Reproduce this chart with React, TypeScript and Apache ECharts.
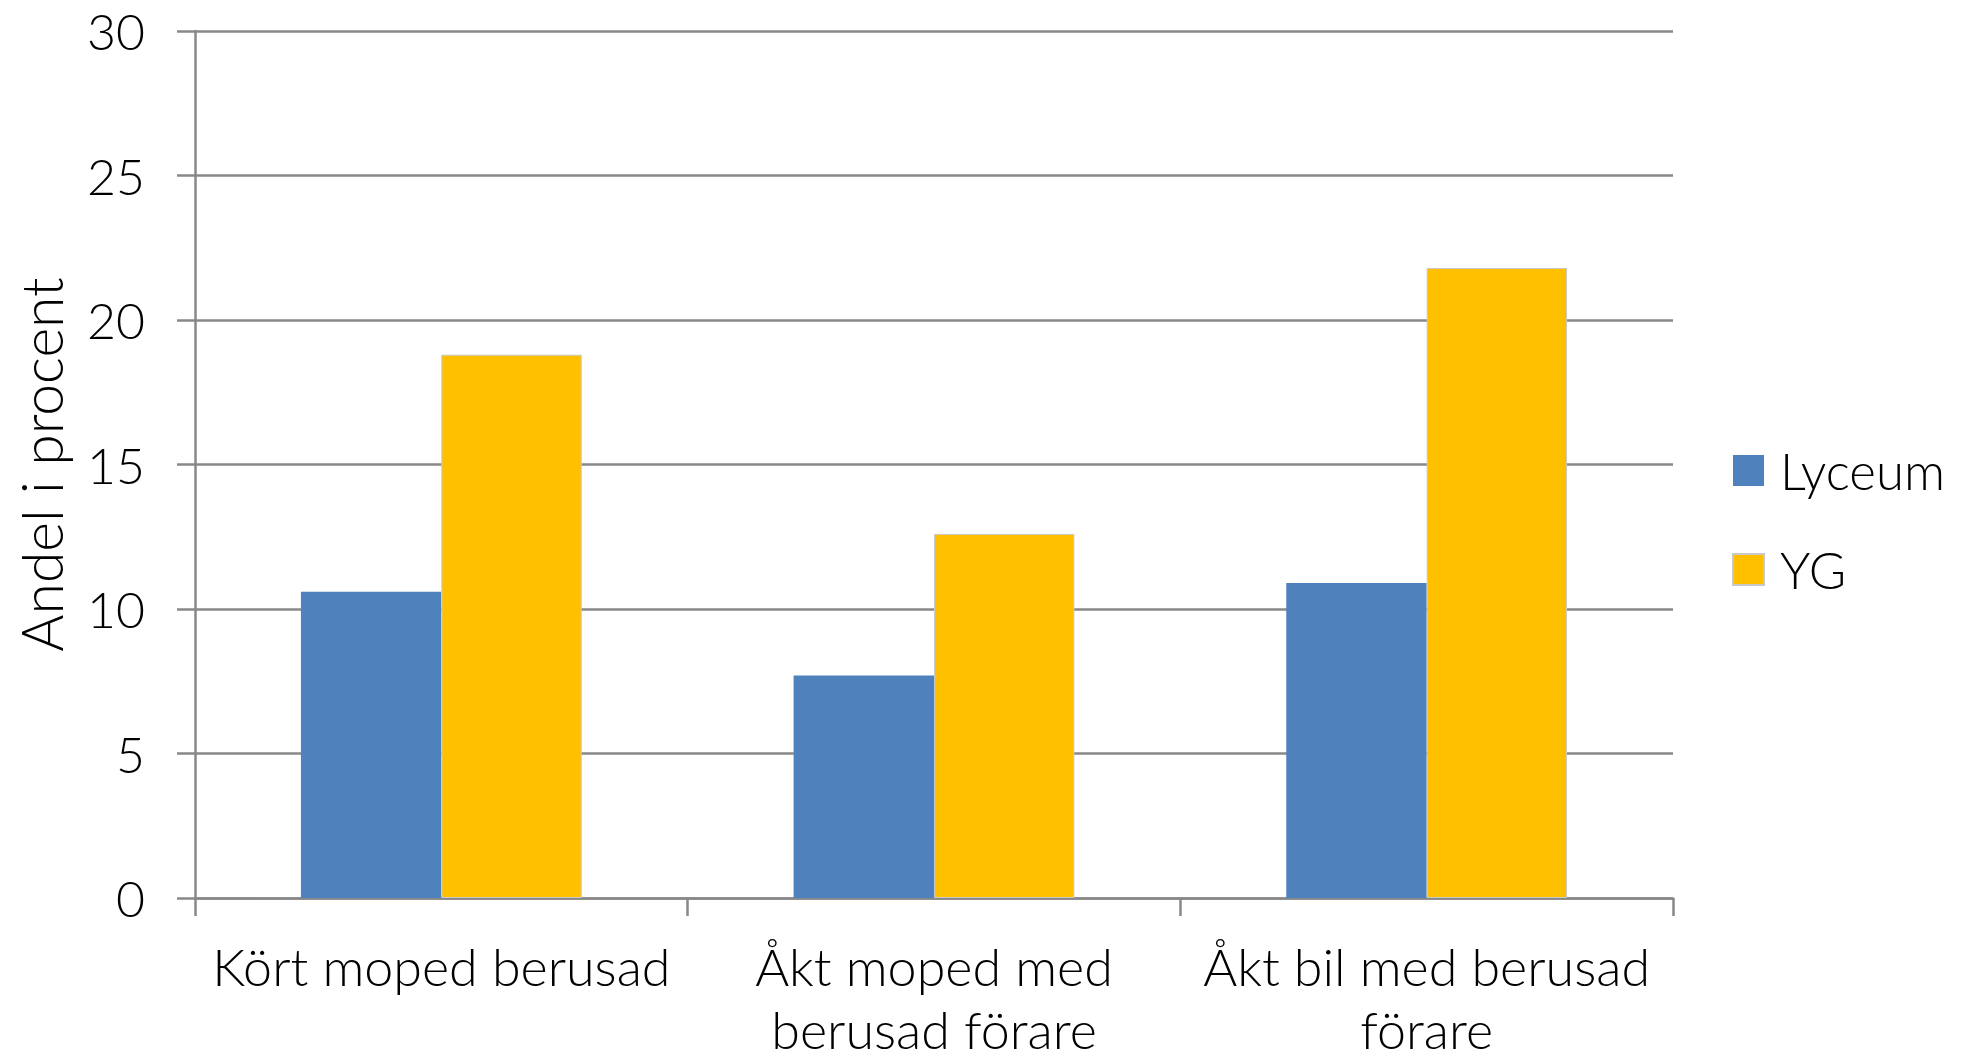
import React, { useEffect, useRef } from "react";
import * as echarts from "echarts";

const categories = ["Kört moped berusad", "Åkt moped med\nberusad förare", "Åkt bil med berusad\nförare"];
const lyceum = [10.6, 7.7, 10.9];
const yg = [18.8, 12.6, 21.8];
const seriesNames = ["Lyceum", "YG"];
const yTicks = { min: 0, max: 30, interval: 5 };

const FONT = "Lato, sans-serif";
const FW = 300;

export default function App() {
  const ref = useRef<HTMLDivElement>(null);
  useEffect(() => {
    if (!ref.current) return;
    const chart = echarts.init(ref.current, null, { renderer: "svg" });
    const labelBase = { fontSize: 52, color: "#000", fontFamily: FONT, fontWeight: FW };
    chart.setOption({
      animation: false,
      backgroundColor: "#ffffff",
      textStyle: { fontFamily: FONT },
      grid: { left: 195, width: 1478, top: 31, height: 867, containLabel: false, outerBoundsMode: "none" },
      legend: {
        orient: "vertical",
        left: 1732,
        top: 445,
        padding: 0,
        itemWidth: 31,
        itemHeight: 31,
        itemGap: 48,
        icon: "rect",
        data: seriesNames,
        textStyle: { fontSize: 51, color: "#000", fontFamily: FONT, fontWeight: FW, padding: [0, 0, 0, 11] },
      },
      xAxis: {
        type: "category",
        data: categories,
        axisLine: { lineStyle: { color: "#888888", width: 2.5 } },
        axisTick: { show: true, length: 18, lineStyle: { color: "#888888", width: 2.5 } },
        axisLabel: {
          ...labelBase,
          margin: 29,
          interval: 0,
          formatter: (v: string) =>
            v
              .split("\n")
              .map((l, i) => `{${i === 0 ? "a" : "b"}|${l}}`)
              .join("\n"),
          rich: {
            a: { ...labelBase, lineHeight: 78 },
            b: { ...labelBase, lineHeight: 48 },
          },
        },
      },
      yAxis: {
        type: "value",
        min: yTicks.min,
        max: yTicks.max,
        interval: yTicks.interval,
        name: "Andel i procent",
        nameLocation: "middle",
        nameGap: 126,
        nameTextStyle: { fontSize: 57, color: "#000", fontFamily: FONT, fontWeight: FW },
        axisLine: { show: true, lineStyle: { color: "#888888", width: 2.5 } },
        axisTick: { show: true, length: 18, lineStyle: { color: "#888888", width: 2.5 } },
        splitLine: { show: true, lineStyle: { color: "#888888", width: 2.5 } },
        axisLabel: { fontSize: 50, color: "#000", fontFamily: FONT, fontWeight: FW, margin: 50 },
      },
      series: [
        {
          name: seriesNames[0],
          type: "bar",
          data: lyceum,
          barGap: "0%",
          barCategoryGap: "43%",
          itemStyle: { color: "#4F81BD", borderWidth: 0 },
        },
        {
          name: seriesNames[1],
          type: "bar",
          data: yg,
          barGap: "0%",
          barCategoryGap: "43%",
          itemStyle: { color: "#FFC000", borderColor: "#c8c8c8", borderWidth: 1 },
        },
      ],
    });
    return () => chart.dispose();
  }, []);
  return (
    <div
      ref={ref}
      style={{ position: "fixed", left: 0, top: 0, width: 1962, height: 1061, background: "#fff" }}
    />
  );
}
